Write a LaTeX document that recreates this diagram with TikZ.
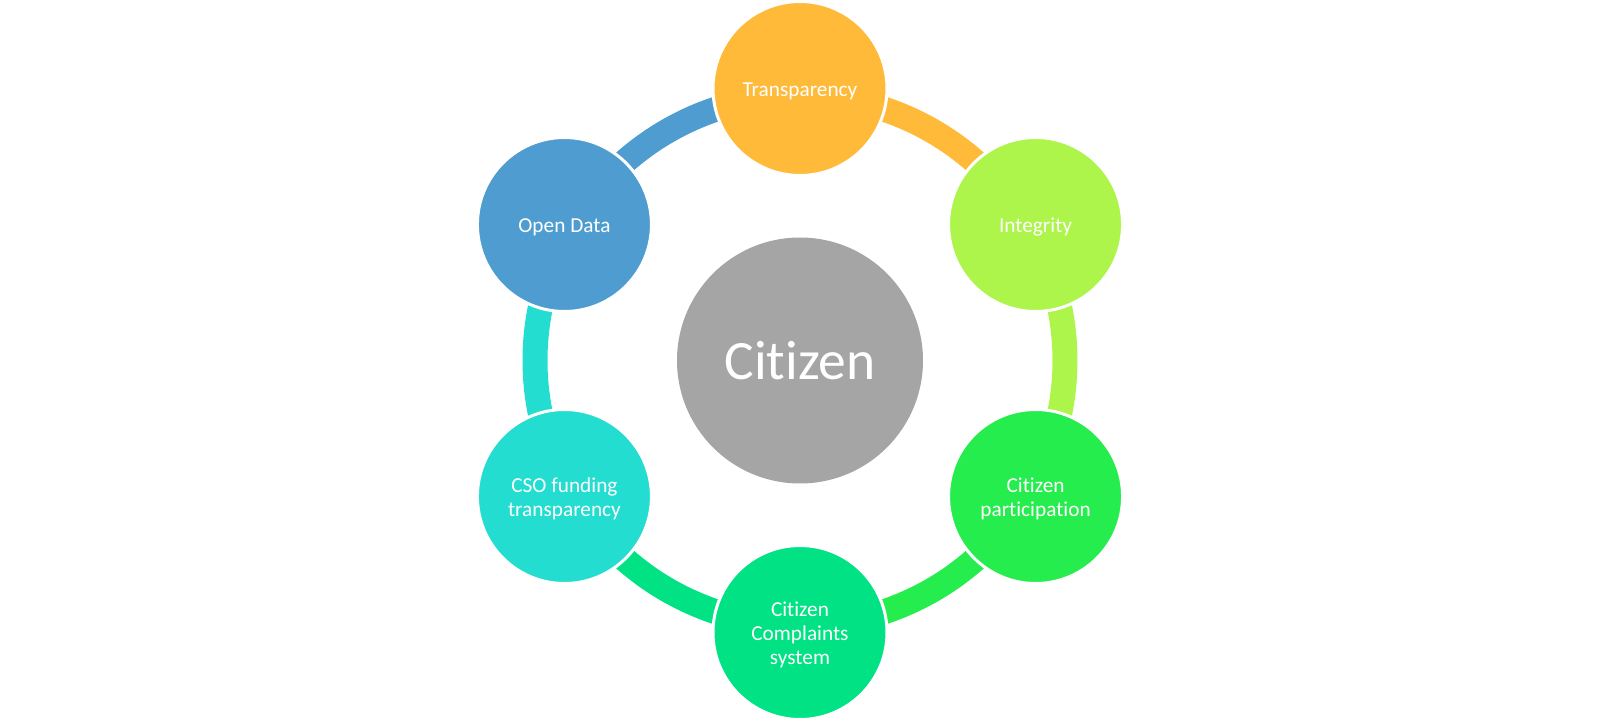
\documentclass[tikz,border=0pt]{standalone}
\usepackage{fontspec}
\setmainfont{Carlito}[Ligatures=NoCommon]
\definecolor{cTrans}{RGB}{255,186,58}
\definecolor{cInteg}{RGB}{173,245,74}
\definecolor{cPart}{RGB}{37,237,77}
\definecolor{cCompl}{RGB}{0,226,131}
\definecolor{cCSO}{RGB}{34,221,208}
\definecolor{cOpen}{RGB}{79,157,208}
\definecolor{cCenter}{RGB}{165,165,165}
\begin{document}
\begin{tikzpicture}[x=1pt,y=1pt,
  bubble/.style={circle, draw=white, line width=3pt, minimum size=174pt, inner sep=0pt},
  lbl/.style={text=white, font=\fontsize{21.3}{23.7}\selectfont, align=center, inner sep=0pt},
  ringseg/.style={line width=25pt}]
\useasboundingbox (-800,-361.5) rectangle (800,360.5);
% ring anchor coordinates
\coordinate (r90) at (90:265);
\coordinate (r30) at (30:265);
\coordinate (rm30) at (-30:265);
\coordinate (rm90) at (-90:265);
\coordinate (rm150) at (-150:265);
\coordinate (r150) at (150:265);
% ring segments
\draw[ringseg, cTrans] (r90) arc[start angle=90, end angle=30, radius=265];
\draw[ringseg, cInteg] (r30) arc[start angle=30, end angle=-30, radius=265];
\draw[ringseg, cPart] (rm30) arc[start angle=-30, end angle=-90, radius=265];
\draw[ringseg, cCompl] (rm90) arc[start angle=-90, end angle=-150, radius=265];
\draw[ringseg, cCSO] (rm150) arc[start angle=-150, end angle=-210, radius=265];
\draw[ringseg, cOpen] (r150) arc[start angle=150, end angle=90, radius=265];
% center
\node[circle, fill=cCenter, minimum size=246pt, inner sep=0pt, text=white,
  font=\fontsize{55.5}{60}\selectfont] (center) at (0,0) {Citizen};
% bubbles
\node[bubble, fill=cTrans] (trans) at (90:272) {};
\node[bubble, fill=cInteg] (integ) at (30:272) {};
\node[bubble, fill=cPart] (part) at (-30:272) {};
\node[bubble, fill=cCompl] (compl) at (-90:272) {};
\node[bubble, fill=cCSO] (cso) at (-150:272) {};
\node[bubble, fill=cOpen] (open) at (150:272) {};
% labels
\node[lbl] (trans-t) at ([yshift=-2.5pt]trans.center) {Transparency};
\node[lbl] (integ-t) at ([yshift=-2.5pt]integ.center) {Integrity};
\node[lbl] (part-t) at ([yshift=-2.5pt]part.center) {Citizen\\participation};
\node[lbl] (compl-t) at ([yshift=-2.5pt]compl.center) {Citizen\\Complaints\\system};
\node[lbl] (cso-t) at ([yshift=-2.5pt]cso.center) {CSO funding\\transparency};
\node[lbl] (open-t) at ([yshift=-2.5pt]open.center) {Open Data};
\end{tikzpicture}
\end{document}
